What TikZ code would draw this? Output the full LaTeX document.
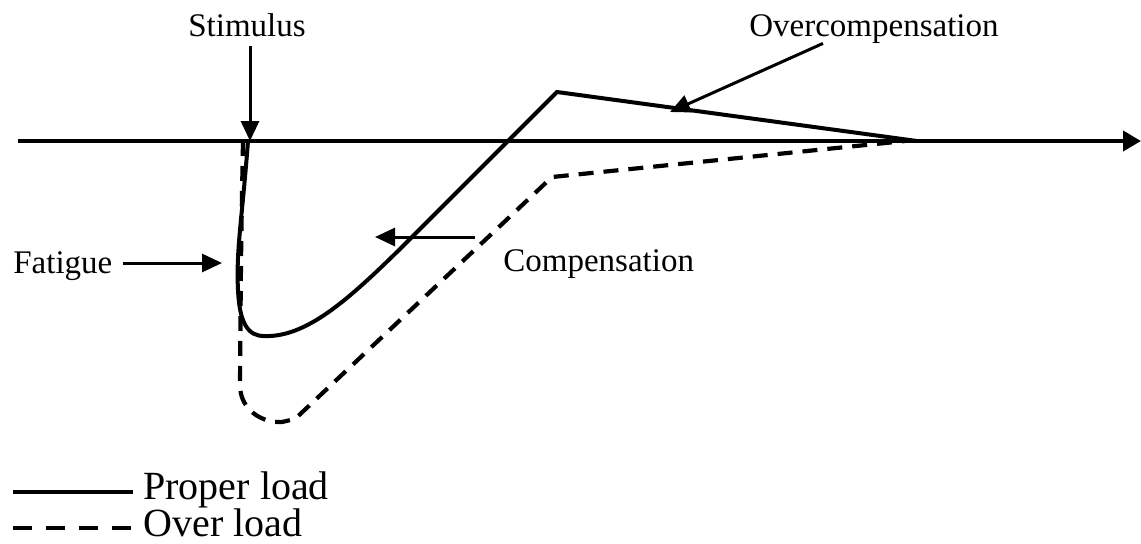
\documentclass[tikz,border=0pt]{standalone}
\usepackage{fontspec}
\setmainfont{Liberation Serif}
\usetikzlibrary{arrows.meta}
\begin{document}
\begin{tikzpicture}[x=0.5pt,y=-0.5pt,
  lbl/.style={font=\fontsize{16.5}{18}\selectfont, inner sep=0pt, anchor=base},
  leg/.style={font=\fontsize{20}{22}\selectfont, inner sep=0pt, anchor=base west},
  curve/.style={line width=2pt, line join=miter},
  dcurve/.style={line width=2.1pt, dash pattern=on 7.5pt off 5pt},
  ptr/.style={line width=1.5pt, -{Triangle[length=10pt,width=9pt]}}]
\useasboundingbox (0,0) rectangle (1141,543);
% axis
\coordinate (axL) at (18,141);
\coordinate (axR) at (1141,141);
\draw[line width=2pt, -{Triangle[length=9pt,width=10pt]}] (axL) -- (axR);
% curves
\draw[curve] (248,141) .. controls (242,220) and (236,250) .. (238,290)
  .. controls (240,335) and (255,337) .. (270,336)
  .. controls (310,334) and (350,298) .. (400,249)
  -- (557,92) -- (917,141);
\draw[dcurve] (243,141) .. controls (241,250) .. (240,385)
  .. controls (240,410) and (262,423) .. (282,422) -- (295,419)
  -- (552,177) -- (905,141);
% labels
\node[lbl] (stim) at (247,36) {Stimulus};
\coordinate (stimtip) at (250,141);
\draw[ptr, shorten <=4.5pt] (stimtip |- stim.south) -- (stimtip);
\node[lbl] (over) at (874,36) {Overcompensation};
\coordinate (ovtip) at (670,112);
\draw[ptr] ([shift={(74,0)}]over.south west) -- (ovtip);
\node[lbl, anchor=base west] (comp) at (503,271) {Compensation};
\coordinate (comptip) at (375,237);
\draw[ptr] ([shift={(-28,-34)}]comp.base west) -- (comptip);
\node[lbl, anchor=base west] (fat) at (13,273) {Fatigue};
\coordinate (fattip) at (222,263);
\draw[ptr] ([xshift=5pt]fat.east |- fattip) -- (fattip);
% legend
\node[leg] (leg1) at (143,499) {Proper load};
\node[leg] (leg2) at (143,536) {Over load};
\coordinate (l1) at (13,492);
\coordinate (l2) at (13,528);
\draw[line width=2pt] (l1) -- ([xshift=-5pt]l1 -| leg1.west);
\draw[line width=2pt, dash pattern=on 9.5pt off 7pt] (l2) -- ([xshift=-5pt]l2 -| leg2.west);
\end{tikzpicture}
\end{document}
